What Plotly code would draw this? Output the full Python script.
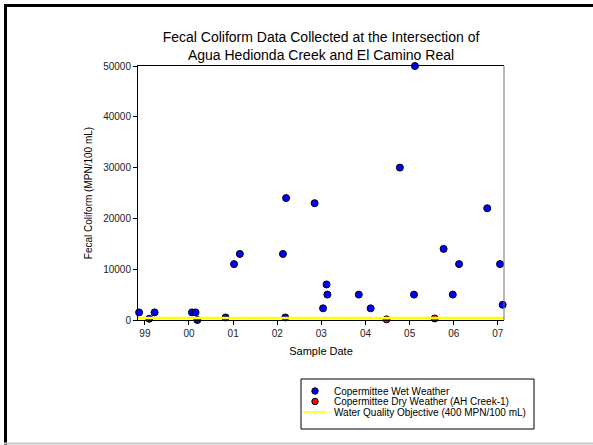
import plotly.graph_objects as go

# ---- data ----
wet_dates = ["1998-11-14", "1999-02-06", "1999-03-22", "2000-01-26", "2000-02-24", "2000-03-10",
             "2000-10-30", "2001-01-08", "2001-02-25", "2002-02-17", "2002-03-08", "2002-03-15",
             "2002-11-06", "2003-01-15", "2003-02-13", "2003-02-20", "2003-11-07", "2004-02-13",
             "2004-10-12", "2005-02-14", "2005-02-06", "2005-10-09", "2005-12-24", "2006-02-14",
             "2006-10-05", "2007-01-19", "2007-02-10"]
wet_values = [1500, 240, 1500, 1500, 1500, 0,
              500, 11000, 13000, 13000, 500, 24000,
              23000, 2300, 7000, 5000, 5000, 2300,
              30000, 50000, 5000, 14000, 5000, 11000,
              22000, 11000, 3000]
dry_dates = ["2004-06-24", "2005-07-27"]
dry_values = [130, 300]
objective_value = 400
x_range = ["1998-11-05", "2007-02-21"]
tick_dates = ["1999-01-01", "2000-01-01", "2001-01-01", "2002-01-01", "2003-01-01",
              "2004-01-01", "2005-01-01", "2006-01-01", "2007-01-01"]
tick_labels = ["99", "00", "01", "02", "03", "04", "05", "06", "07"]
y_ticks = [0, 10000, 20000, 30000, 40000, 50000]
y_tick_labels = ["0", "10000", "20000", "30000", "40000", "50000"]

legend_labels = ["Copermittee Wet Weather",
                 "Copermittee Dry Weather (AH Creek-1)",
                 "Water Quality Objective (400 MPN/100 mL)"]

FONT = "Arial, Liberation Sans, sans-serif"
W, H = 593, 445
ML, MR, MT, MB = 138, 89, 66, 125
PW, PH = W - ML - MR, H - MT - MB


def px(x):
    return (x - ML) / PW


def py(y):
    return (H - MB - y) / PH


fig = go.Figure()
fig.add_trace(go.Scatter(x=wet_dates, y=wet_values, mode="markers", cliponaxis=False,
                         marker=dict(color="#0000ff", size=7, line=dict(color="black", width=1)),
                         name=legend_labels[0], showlegend=False))
fig.add_trace(go.Scatter(x=dry_dates, y=dry_values, mode="markers", cliponaxis=False,
                         marker=dict(color="#ff0000", size=7, line=dict(color="black", width=1)),
                         name=legend_labels[1], showlegend=False))
fig.add_trace(go.Scatter(x=x_range, y=[objective_value, objective_value], mode="lines",
                         line=dict(color="#ffff00", width=2.5), cliponaxis=False,
                         name=legend_labels[2], showlegend=False))

shapes = []
# page frame
shapes.append(dict(type="line", xref="paper", yref="paper", x0=px(4), x1=px(593), y0=py(5.5), y1=py(5.5),
                   line=dict(color="black", width=3)))
shapes.append(dict(type="line", xref="paper", yref="paper", x0=px(5.5), x1=px(5.5), y0=py(4), y1=py(445),
                   line=dict(color="black", width=3)))
shapes.append(dict(type="line", xref="paper", yref="paper", x0=px(4), x1=px(593), y0=py(443.5), y1=py(443.5),
                   line=dict(color="#c8c8c8", width=2)))
# right plot border
shapes.append(dict(type="line", xref="paper", yref="paper", x0=1, x1=1, y0=0, y1=1,
                   line=dict(color="#707070", width=1)))
# legend box
shapes.append(dict(type="rect", xref="paper", yref="paper", x0=px(301), x1=px(534), y0=py(379), y1=py(429),
                   line=dict(color="black", width=1), fillcolor="white"))
row_y = [391, 401.5, 412]
r = 3.2
shapes.append(dict(type="circle", xref="paper", yref="paper", x0=px(315 - r), x1=px(315 + r),
                   y0=py(row_y[0] - r), y1=py(row_y[0] + r), fillcolor="#0000ff",
                   line=dict(color="black", width=1)))
shapes.append(dict(type="circle", xref="paper", yref="paper", x0=px(315 - r), x1=px(315 + r),
                   y0=py(row_y[1] - r), y1=py(row_y[1] + r), fillcolor="#ff0000",
                   line=dict(color="black", width=1)))
shapes.append(dict(type="line", xref="paper", yref="paper", x0=px(303), x1=px(327),
                   y0=py(row_y[2]), y1=py(row_y[2]), line=dict(color="#ffff00", width=1.5)))

annotations = []
for lab, yy in zip(legend_labels, row_y):
    annotations.append(dict(text=lab, xref="paper", yref="paper", x=px(332), y=py(yy),
                            xanchor="left", yanchor="middle", showarrow=False,
                            font=dict(family=FONT, size=10, color="black")))

fig.update_layout(
    width=W, height=H,
    margin=dict(l=ML, r=MR, t=MT, b=MB),
    paper_bgcolor="white", plot_bgcolor="white",
    showlegend=False,
    font=dict(family=FONT, color="#222222"),
    title=dict(text="Fecal Coliform Data Collected at the Intersection of<br>Agua Hedionda Creek and El Camino Real",
               x=px((ML + W - MR) / 2), xref="paper", xanchor="center",
               y=1 - 42 / H, yref="container", yanchor="middle",
               font=dict(family=FONT, size=14, color="black")),
    xaxis=dict(type="date", range=x_range, tickmode="array", tickvals=tick_dates, ticktext=tick_labels,
               showgrid=False, zeroline=False, showline=True, linecolor="black", linewidth=1,
               mirror=True, ticks="outside", ticklen=4, tickcolor="black",
               tickfont=dict(family=FONT, size=10, color="#222222"),
               title=dict(text="Sample Date", font=dict(family=FONT, size=11, color="black"), standoff=9)),
    yaxis=dict(range=[0, 50000], tickmode="array", tickvals=y_ticks, ticktext=y_tick_labels,
               showgrid=False, zeroline=False, showline=True, linecolor="black", linewidth=1,
               ticks="outside", ticklen=4, tickcolor="black",
               tickfont=dict(family=FONT, size=10, color="#222222"),
               title=dict(text="Fecal Coliform (MPN/100 mL)", font=dict(family=FONT, size=10, color="black"),
                          standoff=8)),
    shapes=shapes,
    annotations=annotations,
)

fig.write_html("out.html", config={"displayModeBar": False},
               post_script="document.body.style.margin='0';document.body.style.overflow='hidden';")
